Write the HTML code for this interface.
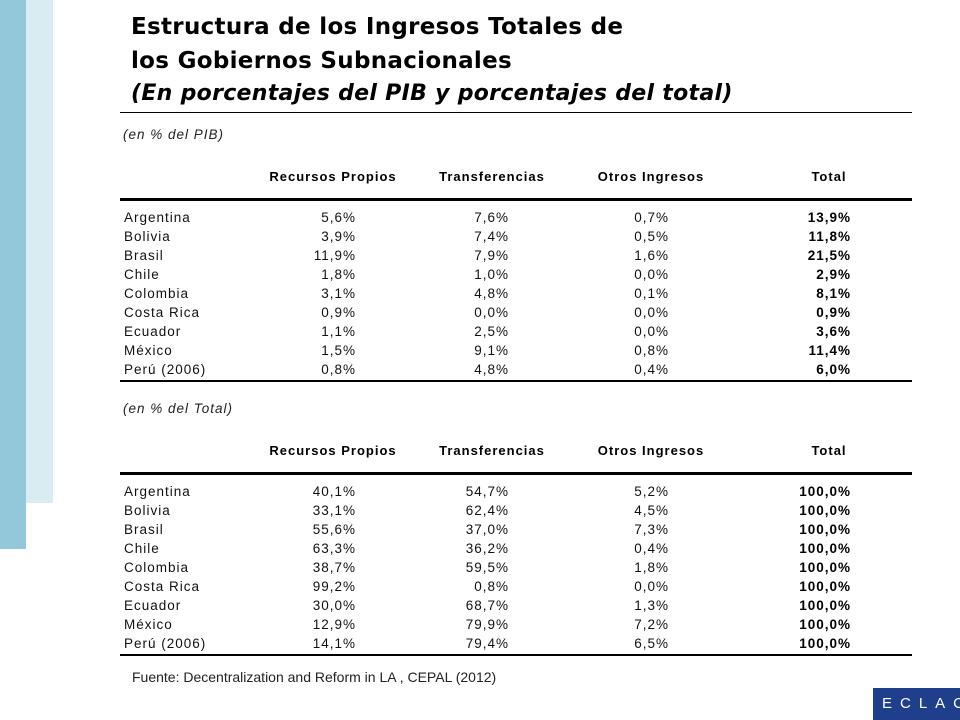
<!DOCTYPE html>
<html><head><meta charset="utf-8"><style>
body{margin:0;width:960px;height:720px;position:relative;background:#fff;overflow:hidden;font-family:"Liberation Sans",sans-serif;color:#000}
.a{position:absolute;white-space:nowrap}
.t{font-family:"DejaVu Sans","Liberation Sans",sans-serif;font-weight:bold;font-size:23px;left:131px;letter-spacing:0.3px}
.c{font-size:13.5px;letter-spacing:1px;line-height:19px;color:#111}
.h{font-weight:bold;font-size:13px;letter-spacing:1px}
.ln{position:absolute;left:120px;width:792px;background:#000}
</style></head><body>
<div class="a" style="left:0;top:0;width:26px;height:549px;background:#93c8db"></div>
<div class="a" style="left:26px;top:0;width:27px;height:503px;background:#d8ecf2"></div>
<div class="a t" style="top:14px">Estructura de los Ingresos Totales de</div>
<div class="a t" style="top:48px">los Gobiernos Subnacionales</div>
<div class="a t" style="top:81px;font-style:italic;font-size:22px">(En porcentajes del PIB y porcentajes del total)</div>
<div class="ln" style="top:112px;height:1px"></div>
<div id="tables"></div>
<div class="a" style="left:132px;top:669px;font-size:14px;color:#222">Fuente: Decentralization and Reform in LA , CEPAL (2012)</div>
<div class="a" style="left:873px;top:688px;width:87px;height:32px;background:#1f3f8c;color:#fff;font-size:15px;letter-spacing:8px;line-height:32px;text-indent:9px;overflow:hidden">ECLAC</div>
<script>
const countries=["Argentina","Bolivia","Brasil","Chile","Colombia","Costa Rica","Ecuador","México","Perú (2006)"];
const headers=["Recursos Propios","Transferencias","Otros Ingresos","Total"];
const pibPropios=["5,6%","3,9%","11,9%","1,8%","3,1%","0,9%","1,1%","1,5%","0,8%"];
const pibTransf=["7,6%","7,4%","7,9%","1,0%","4,8%","0,0%","2,5%","9,1%","4,8%"];
const pibOtros=["0,7%","0,5%","1,6%","0,0%","0,1%","0,0%","0,0%","0,8%","0,4%"];
const pibTotal=["13,9%","11,8%","21,5%","2,9%","8,1%","0,9%","3,6%","11,4%","6,0%"];
const totPropios=["40,1%","33,1%","55,6%","63,3%","38,7%","99,2%","30,0%","12,9%","14,1%"];
const totTransf=["54,7%","62,4%","37,0%","36,2%","59,5%","0,8%","68,7%","79,9%","79,4%"];
const totOtros=["5,2%","4,5%","7,3%","0,4%","1,8%","0,0%","1,3%","7,2%","6,5%"];
const totTotal=["100,0%","100,0%","100,0%","100,0%","100,0%","100,0%","100,0%","100,0%","100,0%"];
const root=document.getElementById('tables');
function mk(cls,style,txt,name){const d=document.createElement('div');d.className='a '+cls;d.style.cssText=style;d.textContent=txt;


root.appendChild(d);return d;}
function table(top,label,cols,key){
 mk('c','left:123px;top:'+(top+1)+'px;font-style:italic;color:#222',label,key+'-label');
 const centers=[333,492,651,829],rights=[356,509,669,851];
 headers.forEach((h,i)=>{mk('h','top:'+(top+45)+'px;left:'+(centers[i]-100)+'px;width:200px;text-align:center',h,key+'-header');});
 const l1=mk('ln','top:'+(top+74)+'px;height:3px','',key+'-header-rule');l1.className='ln';
 countries.forEach((c,r)=>{const y=top+84+r*19;
  mk('c','left:124px;top:'+y+'px',c,key+'-country');
  cols.forEach((arr,i)=>{mk('c','top:'+y+'px;left:'+(rights[i]-120)+'px;width:120px;text-align:right;'+(i==3?'font-weight:bold;color:#000':''),arr[r],key+'-value');});
 });
 const l2=mk('ln','top:'+(top+82+9*19+3)+'px;height:2px','',key+'-bottom-rule');l2.className='ln';
}
table(124,"(en % del PIB)",[pibPropios,pibTransf,pibOtros,pibTotal],'pib-table');
table(398,"(en % del Total)",[totPropios,totTransf,totOtros,totTotal],'total-table');
</script>
</body></html>
